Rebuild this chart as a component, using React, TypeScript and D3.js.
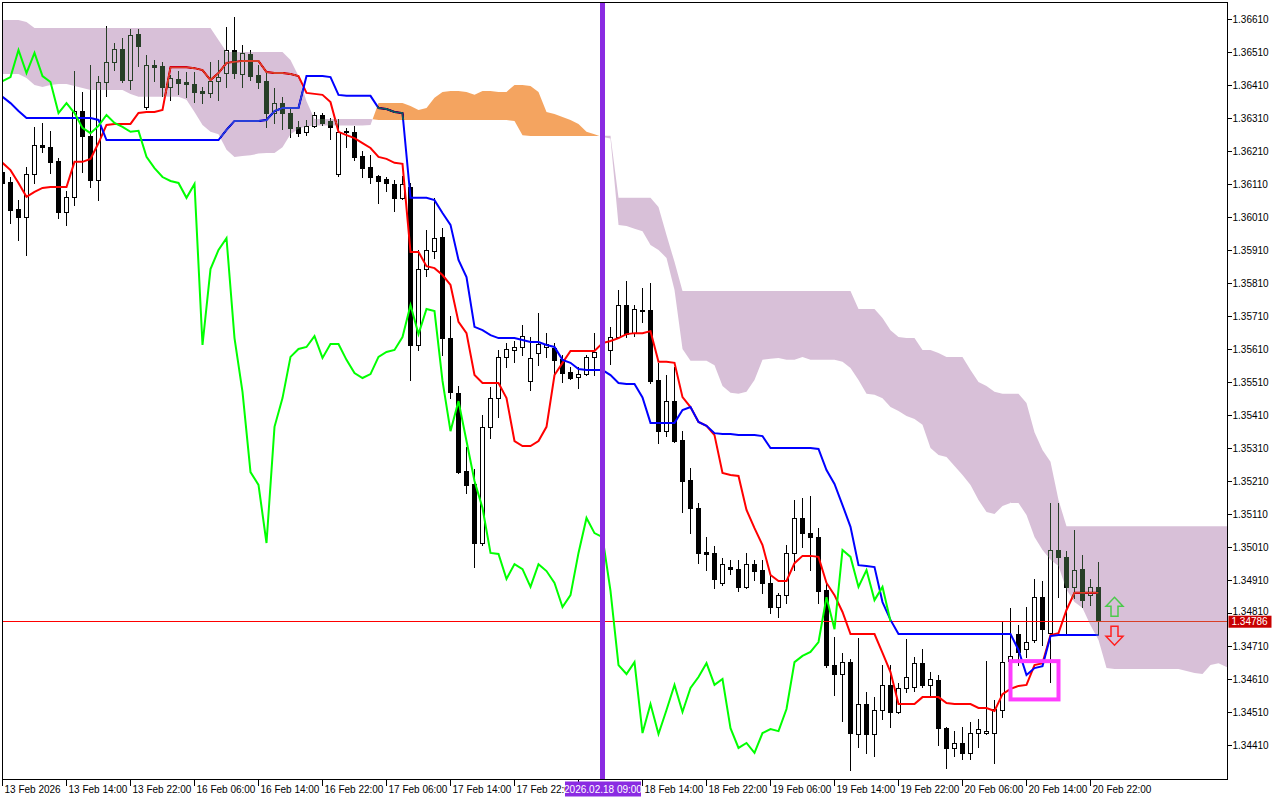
import React from "react";
import * as d3 from "d3";

// ---- candle data (hourly bars, index 0 = 13 Feb 06:00) ----
const opens = [
  1.36147, 1.36117, 1.36035, 1.36011, 1.36141, 1.36229, 1.36223, 1.36181, 1.36026, 1.36072,
  1.36332, 1.36256, 1.36123, 1.3642, 1.36481, 1.3652, 1.36426, 1.36565, 1.36344, 1.36472,
  1.36468, 1.36405, 1.36429, 1.3642, 1.36414, 1.36393, 1.36387, 1.36423, 1.36447, 1.36517,
  1.36444, 1.36505, 1.36441, 1.36423, 1.36326, 1.36356, 1.36326, 1.36284, 1.36269, 1.36287,
  1.3632, 1.36302, 1.36141, 1.36269, 1.36269, 1.36196, 1.36162, 1.36135, 1.36126, 1.36111,
  1.36069, 1.36102, 1.35623, 1.35853, 1.35908, 1.3595, 1.35644, 1.35478, 1.35241, 1.35202,
  1.35023, 1.35375, 1.35462, 1.35587, 1.35608, 1.35617, 1.35514, 1.35599, 1.35617, 1.35614,
  1.35581, 1.35541, 1.35526, 1.35535, 1.35587, 1.35602, 1.35608, 1.35647, 1.35744, 1.35659,
  1.35729, 1.35729, 1.35517, 1.35362, 1.35453, 1.35335, 1.35214, 1.35129, 1.34996, 1.34993,
  1.34902, 1.3495, 1.34944, 1.3489, 1.34959, 1.34941, 1.34902, 1.34829, 1.34865, 1.34993,
  1.35099, 1.35053, 1.35041, 1.34881, 1.34653, 1.34626, 1.34662, 1.34444, 1.34535, 1.34444,
  1.34517, 1.34593, 1.34511, 1.34584, 1.34587, 1.34659, 1.34593, 1.34608, 1.34462, 1.34402,
  1.34417, 1.34387, 1.34447, 1.34447, 1.34447, 1.34517, 1.34665, 1.34747, 1.34702, 1.34729,
  1.34859, 1.3475, 1.35002, 1.34981, 1.3489, 1.34944, 1.34865, 1.3489,
];
const highs = [
  1.36159, 1.36132, 1.36062, 1.36162, 1.36284, 1.36296, 1.36272, 1.3619, 1.3609, 1.36453,
  1.3639, 1.36472, 1.36438, 1.3659, 1.36538, 1.36553, 1.36581, 1.36581, 1.36502, 1.36487,
  1.36481, 1.36441, 1.36453, 1.3645, 1.3645, 1.36405, 1.36481, 1.36487, 1.36587, 1.36617,
  1.36532, 1.36517, 1.36472, 1.3645, 1.36402, 1.36375, 1.36344, 1.36302, 1.36305, 1.36329,
  1.36326, 1.36311, 1.36308, 1.36281, 1.36287, 1.36211, 1.36199, 1.36138, 1.36132, 1.36123,
  1.36135, 1.36114, 1.35911, 1.35972, 1.36069, 1.35978, 1.35711, 1.35499, 1.35314, 1.35247,
  1.35411, 1.35496, 1.35608, 1.35629, 1.35635, 1.35684, 1.35647, 1.3572, 1.35659, 1.35629,
  1.35593, 1.35556, 1.35556, 1.35593, 1.35659, 1.35644, 1.35678, 1.3579, 1.35817, 1.35744,
  1.35796, 1.35811, 1.35569, 1.35532, 1.35556, 1.35362, 1.3525, 1.35144, 1.35041, 1.35014,
  1.34978, 1.34972, 1.34972, 1.34993, 1.34972, 1.34972, 1.34923, 1.34872, 1.35017, 1.35153,
  1.35159, 1.35166, 1.35068, 1.34902, 1.34738, 1.3469, 1.34672, 1.34735, 1.34572, 1.34556,
  1.34653, 1.34653, 1.34599, 1.34732, 1.34678, 1.34702, 1.34632, 1.34623, 1.34466, 1.34453,
  1.34466, 1.34481, 1.3449, 1.34665, 1.34547, 1.34787, 1.34826, 1.34775, 1.34829, 1.34914,
  1.34908, 1.35144, 1.35144, 1.34999, 1.35062, 1.34987, 1.34914, 1.34965,
];
const lows = [
  1.36093, 1.35993, 1.35941, 1.35896, 1.36114, 1.36208, 1.36144, 1.36008, 1.35987, 1.36047,
  1.36147, 1.36102, 1.36062, 1.36378, 1.36456, 1.3642, 1.36399, 1.36468, 1.36338, 1.36423,
  1.36378, 1.36366, 1.36384, 1.36375, 1.36359, 1.36356, 1.36375, 1.36366, 1.36405, 1.36432,
  1.36405, 1.36426, 1.36402, 1.36284, 1.36296, 1.36278, 1.36253, 1.36256, 1.36259, 1.36284,
  1.3629, 1.36247, 1.36135, 1.36223, 1.36184, 1.36132, 1.36114, 1.36053, 1.3609, 1.36029,
  1.36066, 1.35517, 1.35608, 1.35832, 1.35887, 1.35593, 1.35462, 1.35235, 1.35175, 1.3495,
  1.35017, 1.35341, 1.35405, 1.35556, 1.35572, 1.35593, 1.35487, 1.35562, 1.35587, 1.35538,
  1.35511, 1.3552, 1.35493, 1.35532, 1.35532, 1.35578, 1.35565, 1.35644, 1.35647, 1.3565,
  1.35693, 1.35508, 1.35326, 1.35347, 1.35329, 1.35117, 1.35053, 1.34962, 1.34941, 1.34887,
  1.34896, 1.34929, 1.34878, 1.34887, 1.34911, 1.34872, 1.34811, 1.34799, 1.34841, 1.34941,
  1.35011, 1.34941, 1.34841, 1.34647, 1.34562, 1.34484, 1.34335, 1.34405, 1.34387, 1.34378,
  1.3449, 1.34466, 1.34508, 1.34572, 1.34575, 1.34587, 1.34562, 1.34411, 1.34341, 1.34378,
  1.34369, 1.34369, 1.34405, 1.34444, 1.34356, 1.34496, 1.34656, 1.34653, 1.34678, 1.34723,
  1.34714, 1.34602, 1.34859, 1.34747, 1.34856, 1.34829, 1.34835, 1.34747,
];
const closes = [
  1.36114, 1.36032, 1.36011, 1.36141, 1.36229, 1.36223, 1.36178, 1.36026, 1.36072, 1.36332,
  1.36256, 1.36123, 1.3642, 1.36481, 1.3652, 1.36426, 1.36562, 1.36529, 1.36472, 1.36465,
  1.36405, 1.36432, 1.36417, 1.36414, 1.3639, 1.36387, 1.36423, 1.36435, 1.36517, 1.36447,
  1.36508, 1.36438, 1.3642, 1.36326, 1.36356, 1.36326, 1.36281, 1.36265, 1.36287, 1.3632,
  1.36296, 1.36284, 1.36269, 1.36272, 1.36193, 1.36159, 1.36132, 1.3612, 1.36114, 1.36069,
  1.36111, 1.35623, 1.35853, 1.35911, 1.35947, 1.35644, 1.35481, 1.35238, 1.35199, 1.35023,
  1.35375, 1.35462, 1.35587, 1.35611, 1.35617, 1.3565, 1.35584, 1.35626, 1.35626, 1.35578,
  1.35538, 1.35523, 1.35535, 1.35587, 1.35602, 1.35608, 1.35647, 1.35744, 1.35656, 1.35732,
  1.35726, 1.35514, 1.35362, 1.35453, 1.35332, 1.35211, 1.35129, 1.34993, 1.3499, 1.34914,
  1.34959, 1.34944, 1.3489, 1.34959, 1.34938, 1.34902, 1.34829, 1.34865, 1.34993, 1.35099,
  1.35053, 1.35041, 1.34878, 1.34653, 1.34626, 1.34662, 1.34447, 1.34535, 1.34444, 1.34517,
  1.34593, 1.34511, 1.34584, 1.34617, 1.34659, 1.34593, 1.34611, 1.34462, 1.34402, 1.34417,
  1.34387, 1.34447, 1.34459, 1.34453, 1.3452, 1.34662, 1.34681, 1.34693, 1.34723, 1.34859,
  1.34762, 1.35002, 1.34981, 1.3489, 1.34941, 1.3485, 1.3489, 1.34786,
];

// ---- Ichimoku lines ----
const tenkan = [
  1.36175, 1.36153, 1.36114, 1.36072, 1.36087, 1.36099, 1.36102, 1.36102, 1.36102, 1.36178,
  1.36178, 1.36187, 1.36235, 1.3629, 1.36293, 1.36293, 1.36293, 1.36326, 1.36329, 1.36329,
  1.36335, 1.36465, 1.36465, 1.36465, 1.36462, 1.36456, 1.36426, 1.36447, 1.36478, 1.36481,
  1.36484, 1.36484, 1.36484, 1.3645, 1.36447, 1.36447, 1.36444, 1.36438, 1.36387, 1.36384,
  1.36381, 1.36359, 1.36269, 1.36259, 1.3625, 1.36235, 1.3622, 1.36193, 1.36187, 1.36175,
  1.36172, 1.35905, 1.35905, 1.35862, 1.35856, 1.35835, 1.35805, 1.35693, 1.35659, 1.35532,
  1.35508, 1.35508, 1.35508, 1.35462, 1.35332, 1.35317, 1.35317, 1.35332, 1.35375, 1.35532,
  1.35569, 1.35605, 1.35605, 1.35605, 1.35605, 1.35629, 1.35635, 1.35644, 1.35656, 1.35659,
  1.35659, 1.35665, 1.35572, 1.35572, 1.35569, 1.35465, 1.35435, 1.3539, 1.35378, 1.3535,
  1.35235, 1.35229, 1.35226, 1.35123, 1.35068, 1.35017, 1.34926, 1.34908, 1.34908, 1.34962,
  1.34984, 1.34984, 1.34981, 1.34902, 1.34865, 1.34814, 1.34747, 1.34747, 1.34747, 1.34747,
  1.3469, 1.34632, 1.34535, 1.34535, 1.34535, 1.34556, 1.34556, 1.34556, 1.34538, 1.34535,
  1.34535, 1.34535, 1.34523, 1.34523, 1.34514, 1.34565, 1.34581, 1.3459, 1.34593, 1.34653,
  1.34659, 1.34744, 1.3475, 1.3482, 1.34872, 1.34872, 1.34872, 1.34872,
];
const kijun = [
  1.36375, 1.36356, 1.36332, 1.36311, 1.36311, 1.36311, 1.36311, 1.36311, 1.36311, 1.36311,
  1.36311, 1.36311, 1.36305, 1.36244, 1.36244, 1.36244, 1.36244, 1.36244, 1.36244, 1.36244,
  1.36244, 1.36244, 1.36244, 1.36244, 1.36244, 1.36244, 1.36244, 1.36244, 1.36275, 1.36302,
  1.36302, 1.36302, 1.36302, 1.36305, 1.36332, 1.36341, 1.36341, 1.36341, 1.36438, 1.36438,
  1.36438, 1.36435, 1.36381, 1.36378, 1.36378, 1.36378, 1.36378, 1.36341, 1.36338, 1.36329,
  1.36326, 1.36069, 1.36069, 1.36069, 1.36062, 1.36023, 1.35987, 1.35881, 1.35829, 1.35678,
  1.35668, 1.35653, 1.35644, 1.35644, 1.35644, 1.35638, 1.35632, 1.35632, 1.35623, 1.35617,
  1.35578, 1.35569, 1.3555, 1.35547, 1.35547, 1.35547, 1.35532, 1.35508, 1.35505, 1.35505,
  1.35464, 1.35387, 1.35387, 1.35387, 1.35387, 1.35426, 1.35435, 1.3539, 1.35378, 1.35356,
  1.35353, 1.35353, 1.3535, 1.3535, 1.3535, 1.35347, 1.35311, 1.35311, 1.35311, 1.35311,
  1.35311, 1.35311, 1.35308, 1.35244, 1.35202, 1.35138, 1.35072, 1.34956, 1.34953, 1.3495,
  1.34844, 1.3479, 1.34747, 1.34747, 1.34747, 1.34747, 1.34747, 1.34747, 1.34747, 1.34747,
  1.34747, 1.34747, 1.34747, 1.34747, 1.34747, 1.34747, 1.34747, 1.34699, 1.34623, 1.34644,
  1.3465, 1.34741, 1.34744, 1.34744, 1.34744, 1.34744, 1.34744, 1.34744,
];
// Senkou spans (already shifted 26 bars forward, so they run past the last candle)
const spanA = [
  1.36444, 1.36444, 1.36444, 1.36432, 1.36411, 1.36405, 1.36411, 1.36414, 1.36414, 1.36408,
  1.36402, 1.36396, 1.36396, 1.36396, 1.36396, 1.36396, 1.36384, 1.36375, 1.36375, 1.36375,
  1.36375, 1.36375, 1.36375, 1.36366, 1.36329, 1.3629, 1.36269, 1.36262, 1.36215, 1.36193,
  1.36196, 1.36198, 1.36203, 1.36205, 1.36205, 1.36222, 1.36262, 1.36278, 1.36286, 1.36288,
  1.36288, 1.36288, 1.36288, 1.36288, 1.36288, 1.36288, 1.3629, 1.36356, 1.36356, 1.36356,
  1.36356, 1.36347, 1.36335, 1.36341, 1.36372, 1.3639, 1.36393, 1.36393, 1.3639, 1.36381,
  1.36393, 1.36393, 1.3639, 1.3639, 1.36411, 1.36411, 1.36408, 1.3639, 1.36329, 1.36323,
  1.36314, 1.36305, 1.36293, 1.36269, 1.36262, 1.36253, 1.36249, 1.35987, 1.35984, 1.35975,
  1.35968, 1.35926, 1.35911, 1.35887, 1.3579, 1.35611, 1.35575, 1.35575, 1.35575, 1.35562,
  1.35499, 1.35478, 1.35475, 1.35481, 1.35517, 1.35578, 1.35581, 1.35584, 1.35578, 1.35578,
  1.35587, 1.35578, 1.35578, 1.35578, 1.35578, 1.35572, 1.35553, 1.35517, 1.35475, 1.35472,
  1.35462, 1.35435, 1.35423, 1.35408, 1.35399, 1.35381, 1.35311, 1.3529, 1.35284, 1.35256,
  1.35229, 1.35199, 1.35153, 1.35117, 1.35111, 1.35135, 1.35144, 1.35144, 1.35108, 1.35041,
  1.35002, 1.34972, 1.34953, 1.34881, 1.34844, 1.34826, 1.34774, 1.34729, 1.34644, 1.34641,
  1.34641, 1.34641, 1.34641, 1.34641, 1.34641, 1.34641, 1.34641, 1.34641, 1.34635, 1.34629,
  1.34626, 1.34653, 1.34659, 1.34647, 1.34647,
];
const spanB = [
  1.36608, 1.36608, 1.36608, 1.36602, 1.36584, 1.36584, 1.36584, 1.36584, 1.36584, 1.36584,
  1.36584, 1.36584, 1.36584, 1.36584, 1.36584, 1.36584, 1.36584, 1.36584, 1.36584, 1.36584,
  1.36584, 1.36584, 1.36584, 1.36584, 1.36584, 1.36584, 1.36584, 1.36547, 1.36511, 1.36511,
  1.36511, 1.36511, 1.36511, 1.36511, 1.36511, 1.36511, 1.36487, 1.36438, 1.36362, 1.36308,
  1.36308, 1.36308, 1.36308, 1.36308, 1.36308, 1.36308, 1.36308, 1.36305, 1.36305, 1.36305,
  1.36305, 1.36305, 1.36305, 1.36305, 1.36305, 1.36305, 1.36305, 1.36305, 1.36305, 1.36305,
  1.36305, 1.36305, 1.36305, 1.36305, 1.36302, 1.36259, 1.36256, 1.36256, 1.36256, 1.36256,
  1.36256, 1.36256, 1.36256, 1.36256, 1.36256, 1.36257, 1.36257, 1.36069, 1.36069, 1.36069,
  1.36069, 1.36069, 1.36041, 1.35956, 1.35875, 1.35787, 1.35787, 1.35787, 1.35787, 1.35787,
  1.35787, 1.35787, 1.35787, 1.35787, 1.35787, 1.35787, 1.35787, 1.35787, 1.35787, 1.35787,
  1.35787, 1.35787, 1.35787, 1.35787, 1.35787, 1.35787, 1.35787, 1.35732, 1.35732, 1.35732,
  1.35705, 1.35668, 1.35647, 1.35644, 1.35644, 1.35608, 1.35608, 1.35599, 1.35587, 1.35587,
  1.35587, 1.35547, 1.35511, 1.35499, 1.35481, 1.35475, 1.35475, 1.35475, 1.35447, 1.35359,
  1.35305, 1.35269, 1.35153, 1.35074, 1.35074, 1.35074, 1.35074, 1.35074, 1.35074, 1.35074,
  1.35074, 1.35074, 1.35074, 1.35074, 1.35074, 1.35074, 1.35074, 1.35074, 1.35074, 1.35074,
  1.35074, 1.35074, 1.35074, 1.35074, 1.35074,
];

// ---- axis labels ----
const priceTicks = [
  1.3661, 1.3651, 1.3641, 1.3631, 1.3621, 1.3611, 1.3601, 1.3591, 1.3581, 1.3571, 1.3561, 1.3551,
  1.3541, 1.3531, 1.3521, 1.3511, 1.3501, 1.3491, 1.3481, 1.3471, 1.3461, 1.3451, 1.3441,
];
const timeTickIndex = [0, 8, 16, 24, 32, 40, 48, 56, 64, 72, 80, 88, 96, 104, 112, 120, 128, 136];
const timeTickLabel = [
  "13 Feb 2026", "13 Feb 14:00", "13 Feb 22:00", "16 Feb 06:00", "16 Feb 14:00", "16 Feb 22:00",
  "17 Feb 06:00", "17 Feb 14:00", "17 Feb 22:00", "", "18 Feb 14:00", "18 Feb 22:00",
  "19 Feb 06:00", "19 Feb 14:00", "19 Feb 22:00", "20 Feb 06:00", "20 Feb 14:00", "20 Feb 22:00",
];
const lastPrice = 1.34786;
const markerIndex = 75;
const markerLabel = "2026.02.18 09:00";
const boxIndex = [126, 132];
const boxPrice = [1.34665, 1.34549];

const FONT = "'Liberation Sans', Arial, sans-serif";

export default function App() {
  const L = 2.5, R = 1227.5, T = 2.5, B = 779.5;
  const x = d3.scaleLinear().domain([0, 153]).range([2.5, 1226.5]);
  const y = d3.scaleLinear().domain([1.3441, 1.3661]).range([745.3, 19.3]);
  const crisp = (v: number) => Math.round(v - 0.5) + 0.5;

  const candles = closes.map((c, i) => {
    const o = opens[i];
    const cx = crisp(x(i));
    const yo = y(o), yc = y(c);
    const top = Math.round(Math.min(yo, yc)) + 0.5;
    const bot = Math.round(Math.max(yo, yc)) + 0.5;
    const bull = c >= o;
    return (
      <g key={i}>
        <line x1={cx} x2={cx} y1={Math.round(y(highs[i]))} y2={Math.round(y(lows[i])) + 1} stroke="#000" />
        {bot - top < 1 ? (
          <line x1={cx - 2.5} x2={cx + 2.5} y1={top} y2={top} stroke="#000" />
        ) : (
          <rect x={cx - 2} y={top} width={4} height={bot - top} fill={bull ? "#fff" : "#000"} stroke="#000" />
        )}
      </g>
    );
  });

  const line = d3.line<[number, number]>().x((d) => x(d[0])).y((d) => y(d[1]));
  const tenkanPath = line(tenkan.map((v, i) => [i, v] as [number, number])) || "";
  const kijunPath = line(kijun.map((v, i) => [i, v] as [number, number])) || "";
  const chikouPath = line(closes.slice(26).map((v, k) => [k, v] as [number, number])) || "";

  // cloud: purple where span B above span A, orange where span A above B
  let purple = "";
  let orange = "";
  const poly = (pts: number[][]) => "M" + pts.map((p) => p[0].toFixed(2) + "," + p[1].toFixed(2)).join("L") + "Z";
  for (let i = 0; i < spanA.length - 1; i++) {
    const x0 = x(i), x1 = x(i + 1);
    const a0 = spanA[i], b0 = spanB[i], a1 = spanA[i + 1], b1 = spanB[i + 1];
    const d0 = a0 - b0, d1 = a1 - b1;
    if (d0 * d1 >= 0) {
      const p = poly([[x0, y(a0)], [x1, y(a1)], [x1, y(b1)], [x0, y(b0)]]);
      if (d0 + d1 > 0) orange += p; else purple += p;
    } else {
      const t = d0 / (d0 - d1);
      const xc = x0 + t * (x1 - x0);
      const yc = y(a0 + t * (a1 - a0));
      const p1 = poly([[x0, y(a0)], [xc, yc], [x0, y(b0)]]);
      const p2 = poly([[xc, yc], [x1, y(a1)], [x1, y(b1)]]);
      if (d0 > 0) orange += p1; else purple += p1;
      if (d1 > 0) orange += p2; else purple += p2;
    }
  }

  const yLast = y(lastPrice);
  const ax = x(closes.length + 1);
  const mx = x(markerIndex);

  return (
    <svg width={1280} height={800} style={{ position: "absolute", left: 0, top: 0 }} fontFamily={FONT}>
      <defs>
        <clipPath id="plot">
          <rect x={3} y={3} width={1224} height={776} />
        </clipPath>
        <clipPath id="lbl17">
          <rect x={0} y={780} width={mx - 37.5} height={20} />
        </clipPath>
      </defs>
      <rect x={0} y={0} width={1280} height={800} fill="#fff" />
      <g clipPath="url(#plot)">
        <g style={{ isolation: "isolate" }}>
          <rect x={0} y={0} width={1280} height={800} fill="#ffffff" />
          <g shapeRendering="crispEdges">{candles}</g>
          <line x1={3} x2={1227} y1={crisp(yLast)} y2={crisp(yLast)} stroke="#ff0000" strokeWidth={1} />
          <path d={tenkanPath} fill="none" stroke="#ff0000" strokeWidth={2} />
          <path d={kijunPath} fill="none" stroke="#0000ff" strokeWidth={2} />
          <path d={purple} fill="#273f27" style={{ mixBlendMode: "difference" }} />
          <path d={orange} fill="#0b5b9f" style={{ mixBlendMode: "difference" }} />
        </g>
        <path d={chikouPath} fill="none" stroke="#00ff00" strokeWidth={2} />
        <rect x={mx - 2.5} y={3} width={5} height={776} fill="#8a2be2" />
        <rect
          x={x(boxIndex[0])}
          y={y(boxPrice[0])}
          width={x(boxIndex[1]) - x(boxIndex[0])}
          height={y(boxPrice[1]) - y(boxPrice[0])}
          fill="none"
          stroke="#ff3cff"
          strokeWidth={4}
        />
        {/* up arrow */}
        <path
          d={`M${ax},${yLast - 24} L${ax + 8.5},${yLast - 15} L${ax + 3.5},${yLast - 15} L${ax + 3.5},${yLast - 5} L${ax - 3.5},${yLast - 5} L${ax - 3.5},${yLast - 15} L${ax - 8.5},${yLast - 15} Z`}
          fill="none"
          stroke="#4cc94c"
          strokeWidth={1.5}
        />
        {/* down arrow */}
        <path
          d={`M${ax - 3.5},${yLast + 5} L${ax + 3.5},${yLast + 5} L${ax + 3.5},${yLast + 15} L${ax + 8.5},${yLast + 15} L${ax},${yLast + 24} L${ax - 8.5},${yLast + 15} L${ax - 3.5},${yLast + 15} Z`}
          fill="none"
          stroke="#ff2020"
          strokeWidth={1.5}
        />
      </g>
      {/* frame */}
      <rect x={L} y={T} width={R - L} height={B - T} fill="none" stroke="#000" shapeRendering="crispEdges" />
      {/* price axis */}
      {priceTicks.map((p) => (
        <g key={p}>
          <line x1={R} x2={R + 4} y1={crisp(y(p))} y2={crisp(y(p))} stroke="#000" shapeRendering="crispEdges" />
          <text x={R + 5} y={Math.abs(p - 1.3481) < 1e-6 ? y(p) - 2 : y(p)} dy="0.35em" fontSize={10} fill="#000">
            {p.toFixed(5)}
          </text>
        </g>
      ))}
      <rect x={R + 1} y={yLast - 5.5} width={43} height={12} fill="#c80000" />
      <text x={R + 4} y={yLast + 0.5} dy="0.35em" fontSize={10} fill="#fff">
        {lastPrice.toFixed(5)}
      </text>
      {/* time axis */}
      {timeTickIndex.map((idx, k) => (
        <g key={idx}>
          <line x1={crisp(x(idx))} x2={crisp(x(idx))} y1={B} y2={B + 6} stroke="#000" shapeRendering="crispEdges" />
          {timeTickLabel[k] ? (
            <text
              x={crisp(x(idx)) + 2}
              y={B + 13}
              fontSize={10}
              fill="#000"
              clipPath={idx === 64 ? "url(#lbl17)" : undefined}
            >
              {timeTickLabel[k]}
            </text>
          ) : null}
        </g>
      ))}
      <rect x={mx - 37.5} y={B + 2} width={76} height={15} fill="#8a2be2" />
      <text x={mx + 0.5} y={B + 13} fontSize={10} fill="#fff" textAnchor="middle">
        {markerLabel}
      </text>
    </svg>
  );
}
